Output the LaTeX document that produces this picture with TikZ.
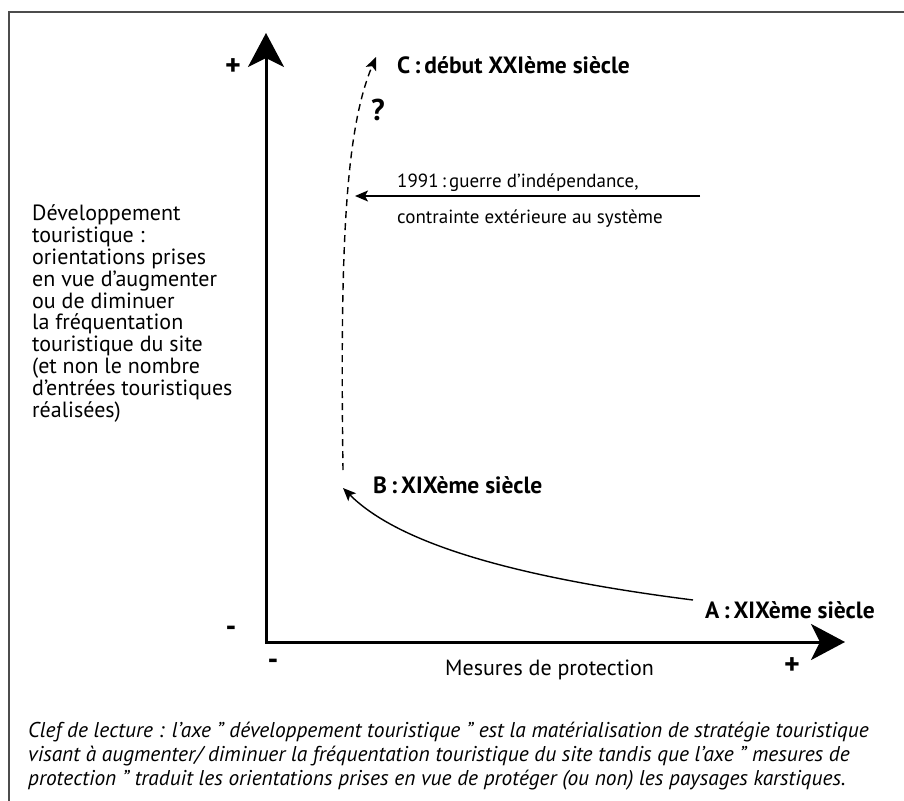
\documentclass[tikz,border=0pt]{standalone}
\usepackage{fontspec}
\setmainfont{PT Sans}
\usetikzlibrary{arrows.meta,positioning}

\begin{document}
\begin{tikzpicture}[x=1pt, y=-1pt,
  axis/.style={line width=3pt, line join=miter, {Stealth[length=34pt,width=36pt,inset=9pt]}-{Stealth[length=34pt,width=36pt,inset=9pt]}},
  link/.style={line width=1.4pt, -{Stealth[length=13pt,width=11pt,inset=3pt]}},
  lbl/.style={inner sep=0pt, anchor=base west, font=\fontsize{22}{21.8}\selectfont},
  era/.style={lbl, font=\fontsize{23.5}{24}\selectfont\bfseries},
  sign/.style={inner sep=0pt, font=\fontsize{30}{30}\selectfont\bfseries}]
\useasboundingbox (0,0) rectangle (904,800);
\clip (0,0) rectangle (904,800);
\draw[line width=1.5pt, black!70] (9,12) rectangle (940,840);

% axes
\coordinate (ytop) at (266,33);
\coordinate (origin) at (266,642);
\coordinate (xend) at (845,642);
\draw[axis] (ytop) -- (origin) -- (xend);
\node (yplus) [sign] at (233,67) {+};
\node (yminus) [sign] at (231,631) {-};
\node (xminus) [sign] at (273,664) {-};
\node (xplus) [sign] at (792,666) {+};
\node (xtitle) [lbl] at (445,675) {Mesures de protection};
% base of a multi-line node = its last line
\node (ytitle) [lbl, align=left] at (32,417) {Développement\\touristique :\\orientations prises\\en vue d'augmenter\\ou de diminuer\\la fréquentation\\touristique du site\\(et non le nombre\\d'entrées touristiques\\réalisées)};

% stages
\node (stageA) [era] at (705,618) {A\,:\,XIXème siècle};
\node (stageB) [era] at (373,493) {B\,:\,XIXème siècle};
\node (stageC) [era] at (397,74) {C\,:\,début XXIème siècle};
\node (query) [era, font=\fontsize{30}{30}\selectfont\bfseries] at (371,120) {?};
\coordinate (aend) at (693,600);
\coordinate (btip) at (343,488);
\coordinate (bstart) at (343,470);
\coordinate (ctip) at (376,57);
\draw[link] (aend) .. controls (520,578) and (400,545) .. (btip);
\draw[link, dash pattern=on 7pt off 5pt] (bstart) .. controls (340,250) and (345,130) .. (ctip);

% outside constraint
\node (war) [lbl, align=left, font=\fontsize{19}{36}\selectfont] at (397,223) {1991\,:\,guerre d'indépendance,\\contrainte extérieure au système};
\coordinate (warstart) at (700,196);
\coordinate (wartip) at (355,196);
\draw[link] (warstart) -- (wartip);

% reading key
\node (key) [lbl, align=left, font=\fontsize{21.4}{24}\selectfont\itshape] at (28,785) {Clef de lecture : l'axe " développement touristique " est la matérialisation de stratégie touristique\\visant à augmenter/ diminuer la fréquentation touristique du site tandis que l'axe " mesures de\\protection " traduit les orientations prises en vue de protéger (ou non) les paysages karstiques.};
\end{tikzpicture}
\end{document}
